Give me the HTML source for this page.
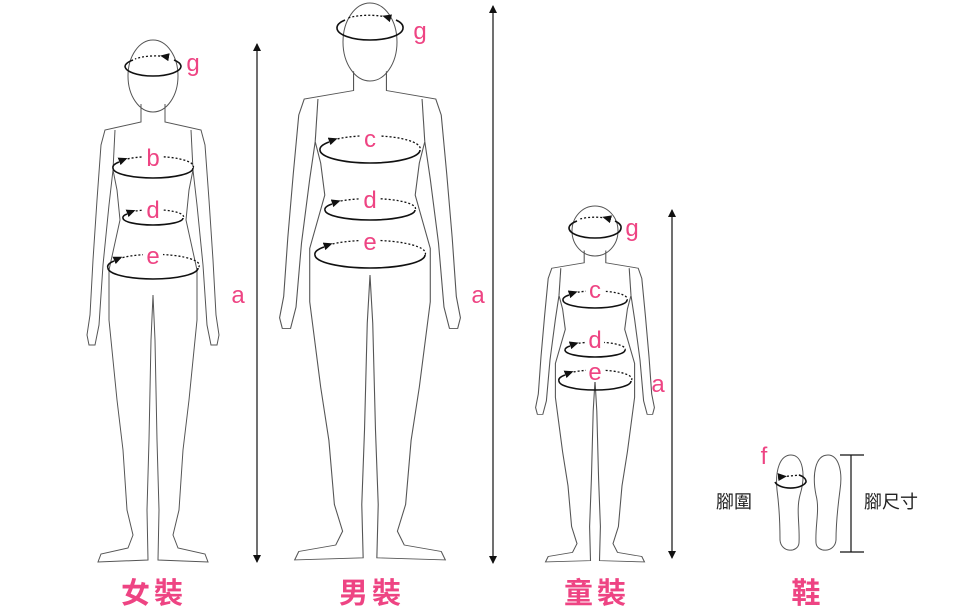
<!DOCTYPE html>
<html><head><meta charset="utf-8"><style>
html,body{margin:0;padding:0;background:#fff;}
svg{display:block}
.o{fill:none;stroke:#555;stroke-width:1}
.r{fill:none;stroke:#111;stroke-width:1.6}
.dt{fill:none;stroke:#111;stroke-width:1.3;stroke-dasharray:2 2}
.p{fill:#ee4483;font-family:"Liberation Sans","Noto Sans CJK TC",sans-serif}
.k{fill:#222;font-family:"Noto Sans CJK TC",sans-serif;font-size:18px}
.big{font-size:29px;font-weight:bold;font-family:"Noto Sans CJK TC",sans-serif;letter-spacing:4px}
</style></head><body>
<svg width="980" height="612" viewBox="0 0 980 612">
<defs>
<marker id="ah" markerWidth="9" markerHeight="8" refX="1" refY="4" orient="auto" markerUnits="userSpaceOnUse"><path d="M9,4 L0,0 L0,8z" fill="#111"/></marker>
<marker id="ae" markerWidth="8" markerHeight="8" refX="7" refY="4" orient="auto" markerUnits="userSpaceOnUse"><path d="M0,0 L8,4 L0,8z" fill="#111"/></marker>
<marker id="as" markerWidth="8" markerHeight="8" refX="1" refY="4" orient="auto" markerUnits="userSpaceOnUse"><path d="M8,0 L0,4 L8,8z" fill="#111"/></marker>
<g id="half">
<path d="M0,255 L2,300 L4,400 L6,470 L5,520 L55,522 L52,514 L25,508 L20,495 L26,470 L30,410 L36,360 L44,280 L44,230 L33,180 L36,150 L40,130 L44,165 L50,225 L54,285 L58,305 L64,305 L66,295 L63,275 L60,220 L56,160 L52,105 L48,90 L12,82 L12,64"/>
<path d="M38,90 L40,130"/>
</g>
<g id="body"><use href="#half"/><use href="#half" transform="scale(-1,1)"/></g>
</defs>
<g class="o">
<ellipse cx="153" cy="76" rx="25" ry="36"/>
<use href="#body" transform="translate(153,40)"/>
<ellipse cx="370" cy="42" rx="27" ry="39" style="stroke-width:1"/>
<use href="#body" transform="translate(370,3) scale(1.37,1.067)" style="stroke-width:0.8"/>
<ellipse cx="595" cy="231" rx="23" ry="25"/>
<use href="#body" transform="translate(595,207) scale(0.9,0.68)" style="stroke-width:1.2"/>
</g>

<g>
<path class="r" d="M125,66 A28,10 0 0 0 181,66 A28,10 0 0 0 174,60"/><path class="r" d="M125,66 A28,10 0 0 1 133,60"/><path class="dt" d="M168,57 A28,10 0 0 0 135,59" marker-start="url(#ah)"/>
<ellipse cx="153" cy="168" rx="40" ry="10" fill="#fff" stroke="none"/>
<path class="r" d="M113,168 A40,10 0 0 0 193,168"/><path class="dt" d="M120,161 A40,10 0 0 1 193,168" marker-start="url(#ah)"/><path class="r" d="M113,168 A40,10 0 0 1 119,162"/>
<path class="r" d="M123,218 A30,7 0 0 0 183,218"/><path class="dt" d="M128,213 A30,7 0 0 1 183,218" marker-start="url(#ah)"/><path class="r" d="M123,218 A30,7 0 0 1 127,214"/>
<path class="r" d="M108,268 A45,11 0 0 0 198,268"/><path class="dt" d="M115,260 A45,11 0 0 1 198,268" marker-start="url(#ah)"/><path class="r" d="M108,268 A45,11 0 0 1 114,261"/>
<path class="r" d="M337,28 A33,12 0 0 0 403,28 A33,12 0 0 0 396,20"/><path class="r" d="M337,28 A33,12 0 0 1 345,20"/><path class="dt" d="M390,18 A33,12 0 0 0 348,18" marker-start="url(#ah)"/>
<path class="r" d="M320,150 A50,13 0 0 0 420,150"/><path class="dt" d="M330,141 A50,13 0 0 1 420,150" marker-start="url(#ah)"/><path class="r" d="M320,150 A50,13 0 0 1 329,142"/>
<path class="r" d="M325,210 A45,10 0 0 0 415,210"/><path class="dt" d="M333,203 A45,10 0 0 1 415,210" marker-start="url(#ah)"/><path class="r" d="M325,210 A45,10 0 0 1 332,204"/>
<path class="r" d="M315,255 A55,13 0 0 0 425,255"/><path class="dt" d="M325,246 A55,13 0 0 1 425,255" marker-start="url(#ah)"/><path class="r" d="M315,255 A55,13 0 0 1 324,247"/>
<path class="r" d="M569,228 A26,10 0 0 0 621,228 A26,10 0 0 0 615,221"/><path class="r" d="M569,228 A26,10 0 0 1 577,221"/><path class="dt" d="M610,219 A26,10 0 0 0 580,219" marker-start="url(#ah)"/>
<path class="r" d="M563,300 A32,8 0 0 0 627,300"/><path class="dt" d="M570,294 A32,8 0 0 1 627,300" marker-start="url(#ah)"/><path class="r" d="M563,300 A32,8 0 0 1 569,295"/>
<path class="r" d="M565,350 A30,7 0 0 0 625,350"/><path class="dt" d="M571,345 A30,7 0 0 1 625,350" marker-start="url(#ah)"/><path class="r" d="M565,350 A30,7 0 0 1 570,346"/>
<path class="r" d="M559,381 A36,9 0 0 0 631,381"/><path class="dt" d="M566,374 A36,9 0 0 1 631,381" marker-start="url(#ah)"/><path class="r" d="M559,381 A36,9 0 0 1 565,375"/>
</g>
<g class="p" font-size="24" text-anchor="middle">
<text x="193" y="71">g</text>
<rect x="143" y="148" width="20" height="22" fill="#fff"/><text x="153" y="166">b</text>
<rect x="143" y="198" width="20" height="22" fill="#fff"/><text x="153" y="218">d</text>
<rect x="143" y="246" width="20" height="22" fill="#fff"/><text x="153" y="264">e</text>
<text x="420" y="39">g</text>
<rect x="360" y="128" width="20" height="22" fill="#fff"/><text x="370" y="147">c</text>
<rect x="360" y="188" width="20" height="22" fill="#fff"/><text x="370" y="208">d</text>
<rect x="360" y="232" width="20" height="22" fill="#fff"/><text x="370" y="250">e</text>
<text x="632" y="236">g</text>
<rect x="586" y="280" width="18" height="20" fill="#fff"/><text x="595" y="298">c</text>
<rect x="586" y="328" width="18" height="22" fill="#fff"/><text x="595" y="348">d</text>
<rect x="586" y="362" width="18" height="20" fill="#fff"/><text x="595" y="380">e</text>
<text x="238" y="303">a</text><text x="478" y="303">a</text><text x="658" y="392">a</text>
<text x="764" y="464">f</text>
</g>
<g stroke="#111" stroke-width="1.2">
<line x1="257" y1="44" x2="257" y2="562" marker-start="url(#as)" marker-end="url(#ae)"/>
<line x1="493" y1="6" x2="493" y2="563" marker-start="url(#as)" marker-end="url(#ae)"/>
<line x1="672" y1="210" x2="672" y2="558" marker-start="url(#as)" marker-end="url(#ae)"/>
</g>
<g class="o">
<path d="M791,455 C780,455 775,470 777,490 C779,505 780,520 780,540 C781,553 798,553 799,543 C800,525 796,510 800,495 C806,475 803,455 791,455Z"/>
<path d="M828,455 C838,455 843,470 840,490 C838,505 836,522 836,540 C835,553 817,553 816,543 C815,525 820,510 816,495 C812,475 815,455 828,455Z"/>
</g>
<path class="r" d="M775,482 A16,8 0 0 0 806,482 A16,8 0 0 0 799,475"/><path class="dt" d="M779,477 L800,475" marker-start="url(#ah)"/>
<g stroke="#111" stroke-width="1.2"><line x1="851" y1="455" x2="851" y2="552"/><line x1="840" y1="455" x2="864" y2="455"/><line x1="840" y1="552" x2="864" y2="552"/></g>
<text class="k" x="716" y="508">腳圍</text>
<text class="k" x="864" y="508">腳尺寸</text>
<g class="p big" text-anchor="middle">
<text x="154" y="603">女裝</text><text x="372" y="603">男裝</text><text x="597" y="603">童裝</text><text x="808" y="603">鞋</text>
</g>
</svg>
</body></html>
